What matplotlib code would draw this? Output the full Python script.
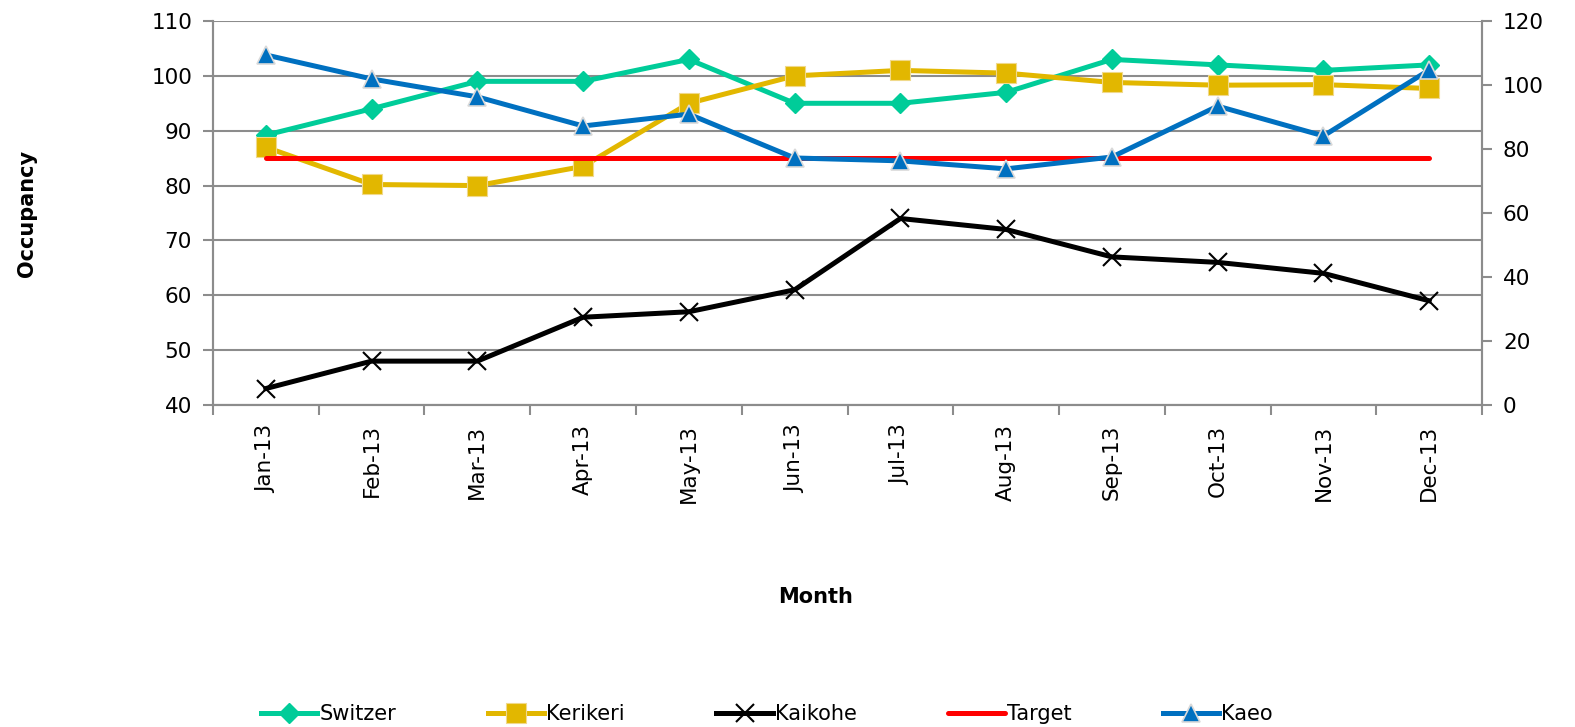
import numpy as np
import matplotlib.pyplot as plt

# Monthly occupancy by site, 2013
months = ['Jan-13', 'Feb-13', 'Mar-13', 'Apr-13', 'May-13', 'Jun-13',
          'Jul-13', 'Aug-13', 'Sep-13', 'Oct-13', 'Nov-13', 'Dec-13']
switzer = [89.2, 94, 99, 99, 103, 95, 95, 97, 103, 102, 101, 102]
kerikeri = [87, 80.2, 80, 83.5, 95, 100, 101, 100.5, 98.8, 98.3, 98.4, 97.7]
kaikohe = [43, 48, 48, 56, 57, 61, 74, 72, 67, 66, 64, 59]
target = [85] * 12
kaeo = [109.4, 101.9, 96.3, 87.2, 90.9, 77.2, 76.3, 73.8, 77.5, 93.4, 84.1, 104.7]  # secondary axis

x = np.arange(len(months))
grey = '#8c8c8c'

fig = plt.figure(figsize=(15.75, 7.27), dpi=100)
ax = fig.add_axes([0.1352, 0.4429, 0.8058, 0.5282])
ax2 = ax.twinx()

l1, = ax.plot(x, switzer, color='#00CC99', lw=3.6, marker='D', ms=10,
              mec='#00CC99', label='Switzer')
l2, = ax.plot(x, kerikeri, color='#E2B700', lw=3.6, marker='s', ms=14,
              mec='#F0D98A', mew=0.8, label='Kerikeri')
l3, = ax.plot(x, kaikohe, color='black', lw=3.6, marker='x', ms=13,
              mew=1.5, label='Kaikohe')
l4, = ax.plot(x, target, color='#FF0000', lw=3.6, solid_capstyle='round',
              label='Target')
l5, = ax2.plot(x, kaeo, color='#0070C0', lw=3.6, marker='^', ms=13,
               mec='#D9D9D9', mew=1.2, label='Kaeo')

ax.set_xlim(-0.5, len(months) - 0.5)
ax.set_ylim(40, 110)
ax.set_yticks(np.arange(40, 111, 10))
ax2.set_ylim(0, 120)
ax2.set_yticks(np.arange(0, 121, 20))

ax.yaxis.grid(True, color=grey, lw=1.5)
ax.set_axisbelow(True)

# category labels centred, tick marks on category boundaries
ax.set_xticks(x)
ax.set_xticklabels(months, rotation=90, fontsize=15.5)
ax.set_xticks(np.arange(-0.5, len(months)), minor=True)
ax.tick_params(axis='x', which='major', length=0, pad=14)
ax.tick_params(axis='x', which='minor', length=7, width=1.5, color=grey)
ax.tick_params(axis='y', length=7, width=1.5, color=grey, labelsize=15.5, pad=8)
ax2.tick_params(axis='y', length=7, width=1.5, color=grey, labelsize=15.5, pad=8)

for a in (ax, ax2):
    a.spines['top'].set_visible(False)
    for s in ('left', 'right', 'bottom'):
        a.spines[s].set_color(grey)
        a.spines[s].set_linewidth(1.5)

ax.set_ylabel('Occupancy', fontsize=15, fontweight='bold', labelpad=82)
fig.text(0.518, 0.171, 'Month', fontsize=15, fontweight='bold', ha='center')

fig.legend(handles=[l1, l2, l3, l4, l5], loc='lower center', ncol=5,
           bbox_to_anchor=(0.487, -0.022), frameon=False, fontsize=15,
           handlelength=2.7, handletextpad=0.1, columnspacing=4.4)

fig.savefig('out.png', dpi=100)
